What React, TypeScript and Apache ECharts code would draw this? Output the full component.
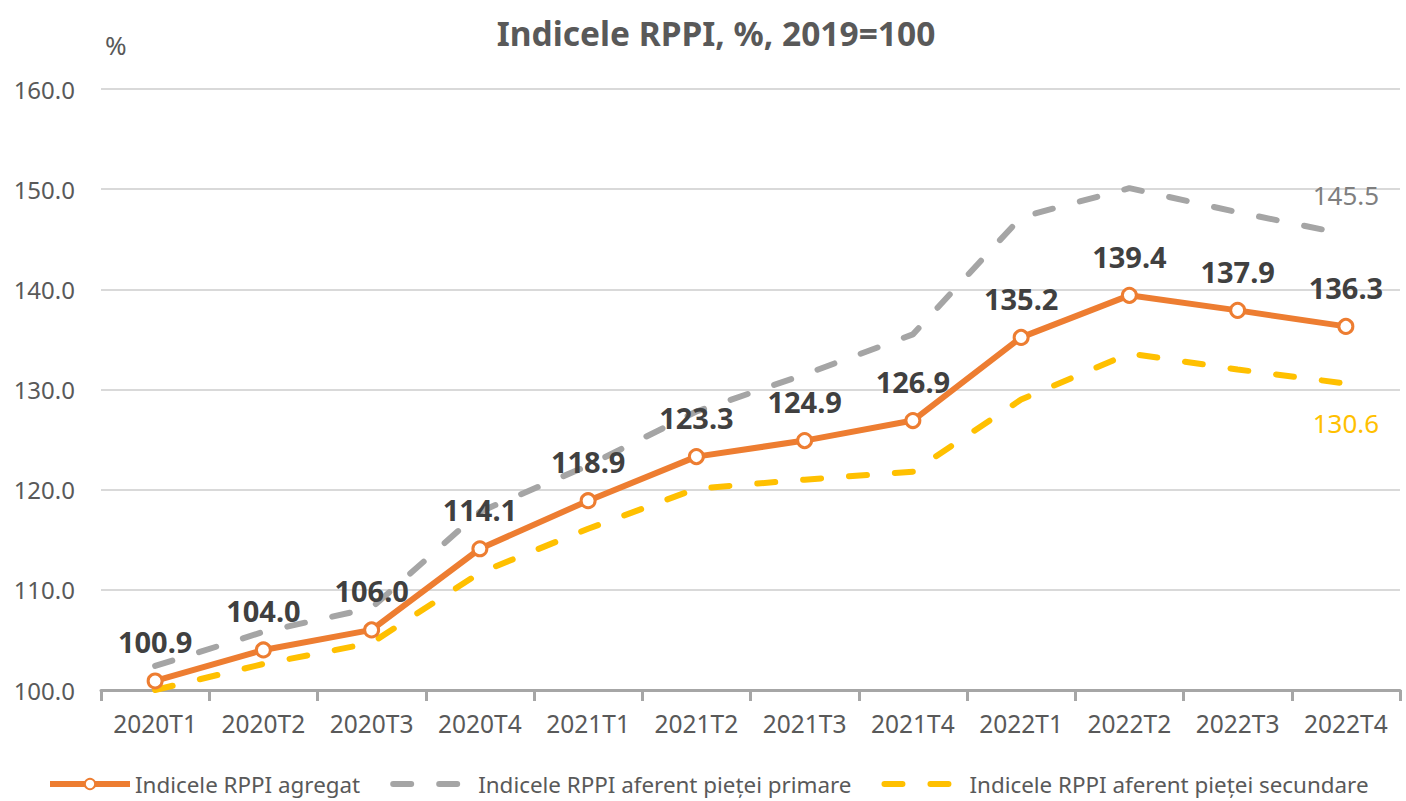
import React, { useEffect, useRef } from "react";
import * as echarts from "echarts";

const categories = ["2020T1", "2020T2", "2020T3", "2020T4", "2021T1", "2021T2", "2021T3", "2021T4", "2022T1", "2022T2", "2022T3", "2022T4"];
const aggregateValues = [100.9, 104.0, 106.0, 114.1, 118.9, 123.3, 124.9, 126.9, 135.2, 139.4, 137.9, 136.3];
const primaryValues = [102.4, 105.8, 108.2, 117.8, 122.4, 127.8, 131.5, 135.5, 147.2, 150.1, 147.7, 145.5];
const secondaryValues = [100.0, 102.6, 104.7, 111.7, 116.1, 120.1, 121.0, 121.8, 129.0, 133.6, 132.0, 130.6];
const seriesNames = ["Indicele RPPI agregat", "Indicele RPPI aferent pieței primare", "Indicele RPPI aferent pieței secundare"];
const yTicks = { min: 100, max: 160, interval: 10 };

const FONT = "Noto Sans";
const DASH = [18, 28];

export default function App() {
  const ref = useRef<HTMLDivElement>(null);
  useEffect(() => {
    document.body.style.margin = "0";
    if (!ref.current) return;
    const chart = echarts.init(ref.current, null, { renderer: "svg" });
    const last = categories.length - 1;
    const endLabel = (values: number[], position: string, color: string) => ({
      symbol: "circle",
      symbolSize: 1,
      itemStyle: { color: "transparent" },
      label: {
        show: true,
        position,
        distance: 26,
        formatter: (p: any) => Number(p.value).toFixed(1),
        fontFamily: FONT,
        fontSize: 26,
        color,
      },
      data: [{ coord: [categories[last], values[last]], value: values[last] }],
    });
    const option: any = {
      animation: false,
      backgroundColor: "#ffffff",
      textStyle: { fontFamily: FONT },
      title: {
        text: "Indicele RPPI, %, 2019=100",
        left: 711,
        textAlign: "center",
        top: 11,
        textStyle: { fontFamily: FONT, fontSize: 33.5, fontWeight: "bold", color: "#595959" },
      },
      graphic: [
        {
          type: "text",
          left: 105,
          top: 32,
          style: { text: "%", fontFamily: FONT, fontSize: 26, fill: "#595959" },
        },
      ],
      legend: {
        left: 42,
        bottom: 1,
        itemWidth: 80,
        itemHeight: 13,
        itemGap: 30,
        textStyle: { fontFamily: FONT, fontSize: 22.4, color: "#595959" },
        data: [
          { name: seriesNames[0], lineStyle: { width: 6 } },
          {
            name: seriesNames[1],
            lineStyle: { width: 6, type: DASH, cap: "round" },
            itemStyle: { color: "transparent", borderColor: "transparent", opacity: 0 },
          },
          {
            name: seriesNames[2],
            lineStyle: { width: 6, type: DASH, cap: "round" },
            itemStyle: { color: "transparent", borderColor: "transparent", opacity: 0 },
          },
        ],
      },
      grid: { left: 101, right: 6, top: 89, bottom: 111 },
      xAxis: {
        type: "category",
        data: categories,
        boundaryGap: true,
        axisLine: { lineStyle: { color: "#A6A6A6", width: 3 } },
        axisTick: { show: true, interval: 0, alignWithLabel: false, length: 11, lineStyle: { color: "#A6A6A6", width: 3 } },
        axisLabel: { interval: 0, hideOverlap: false, fontFamily: FONT, fontSize: 24.5, color: "#595959", margin: 21 },
      },
      yAxis: {
        type: "value",
        min: yTicks.min,
        max: yTicks.max,
        interval: yTicks.interval,
        axisLine: { show: false },
        axisTick: { show: false },
        axisLabel: {
          fontFamily: FONT,
          fontSize: 24,
          color: "#595959",
          margin: 26,
          formatter: (v: number) => v.toFixed(1),
        },
        splitLine: { lineStyle: { color: "#D9D9D9", width: 2 } },
      },
      series: [
        {
          name: seriesNames[1],
          type: "line",
          data: primaryValues,
          symbol: "none",
          z: 2,
          lineStyle: { color: "#A5A5A5", width: 6, type: DASH, cap: "round" },
          itemStyle: { color: "#A5A5A5" },
          markPoint: endLabel(primaryValues, "top", "#7F7F7F"),
        },
        {
          name: seriesNames[2],
          type: "line",
          data: secondaryValues,
          symbol: "none",
          z: 2,
          lineStyle: { color: "#FFC000", width: 6, type: DASH, cap: "round" },
          itemStyle: { color: "#FFC000" },
          markPoint: endLabel(secondaryValues, "bottom", "#FFC000"),
        },
        {
          name: seriesNames[0],
          type: "line",
          data: aggregateValues,
          symbol: "circle",
          symbolSize: 14,
          showAllSymbol: true,
          z: 5,
          lineStyle: { color: "#ED7D31", width: 6 },
          itemStyle: { color: "#ffffff", borderColor: "#ED7D31", borderWidth: 3 },
          label: {
            show: true,
            position: "top",
            distance: 16,
            formatter: (p: any) => Number(p.value).toFixed(1),
            fontFamily: FONT,
            fontSize: 29,
            fontWeight: "bold",
            color: "#404040",
          },
        },
      ],
    };
    chart.setOption(option);
    return () => chart.dispose();
  }, []);
  return <div ref={ref} style={{ width: 1406, height: 801 }} />;
}
